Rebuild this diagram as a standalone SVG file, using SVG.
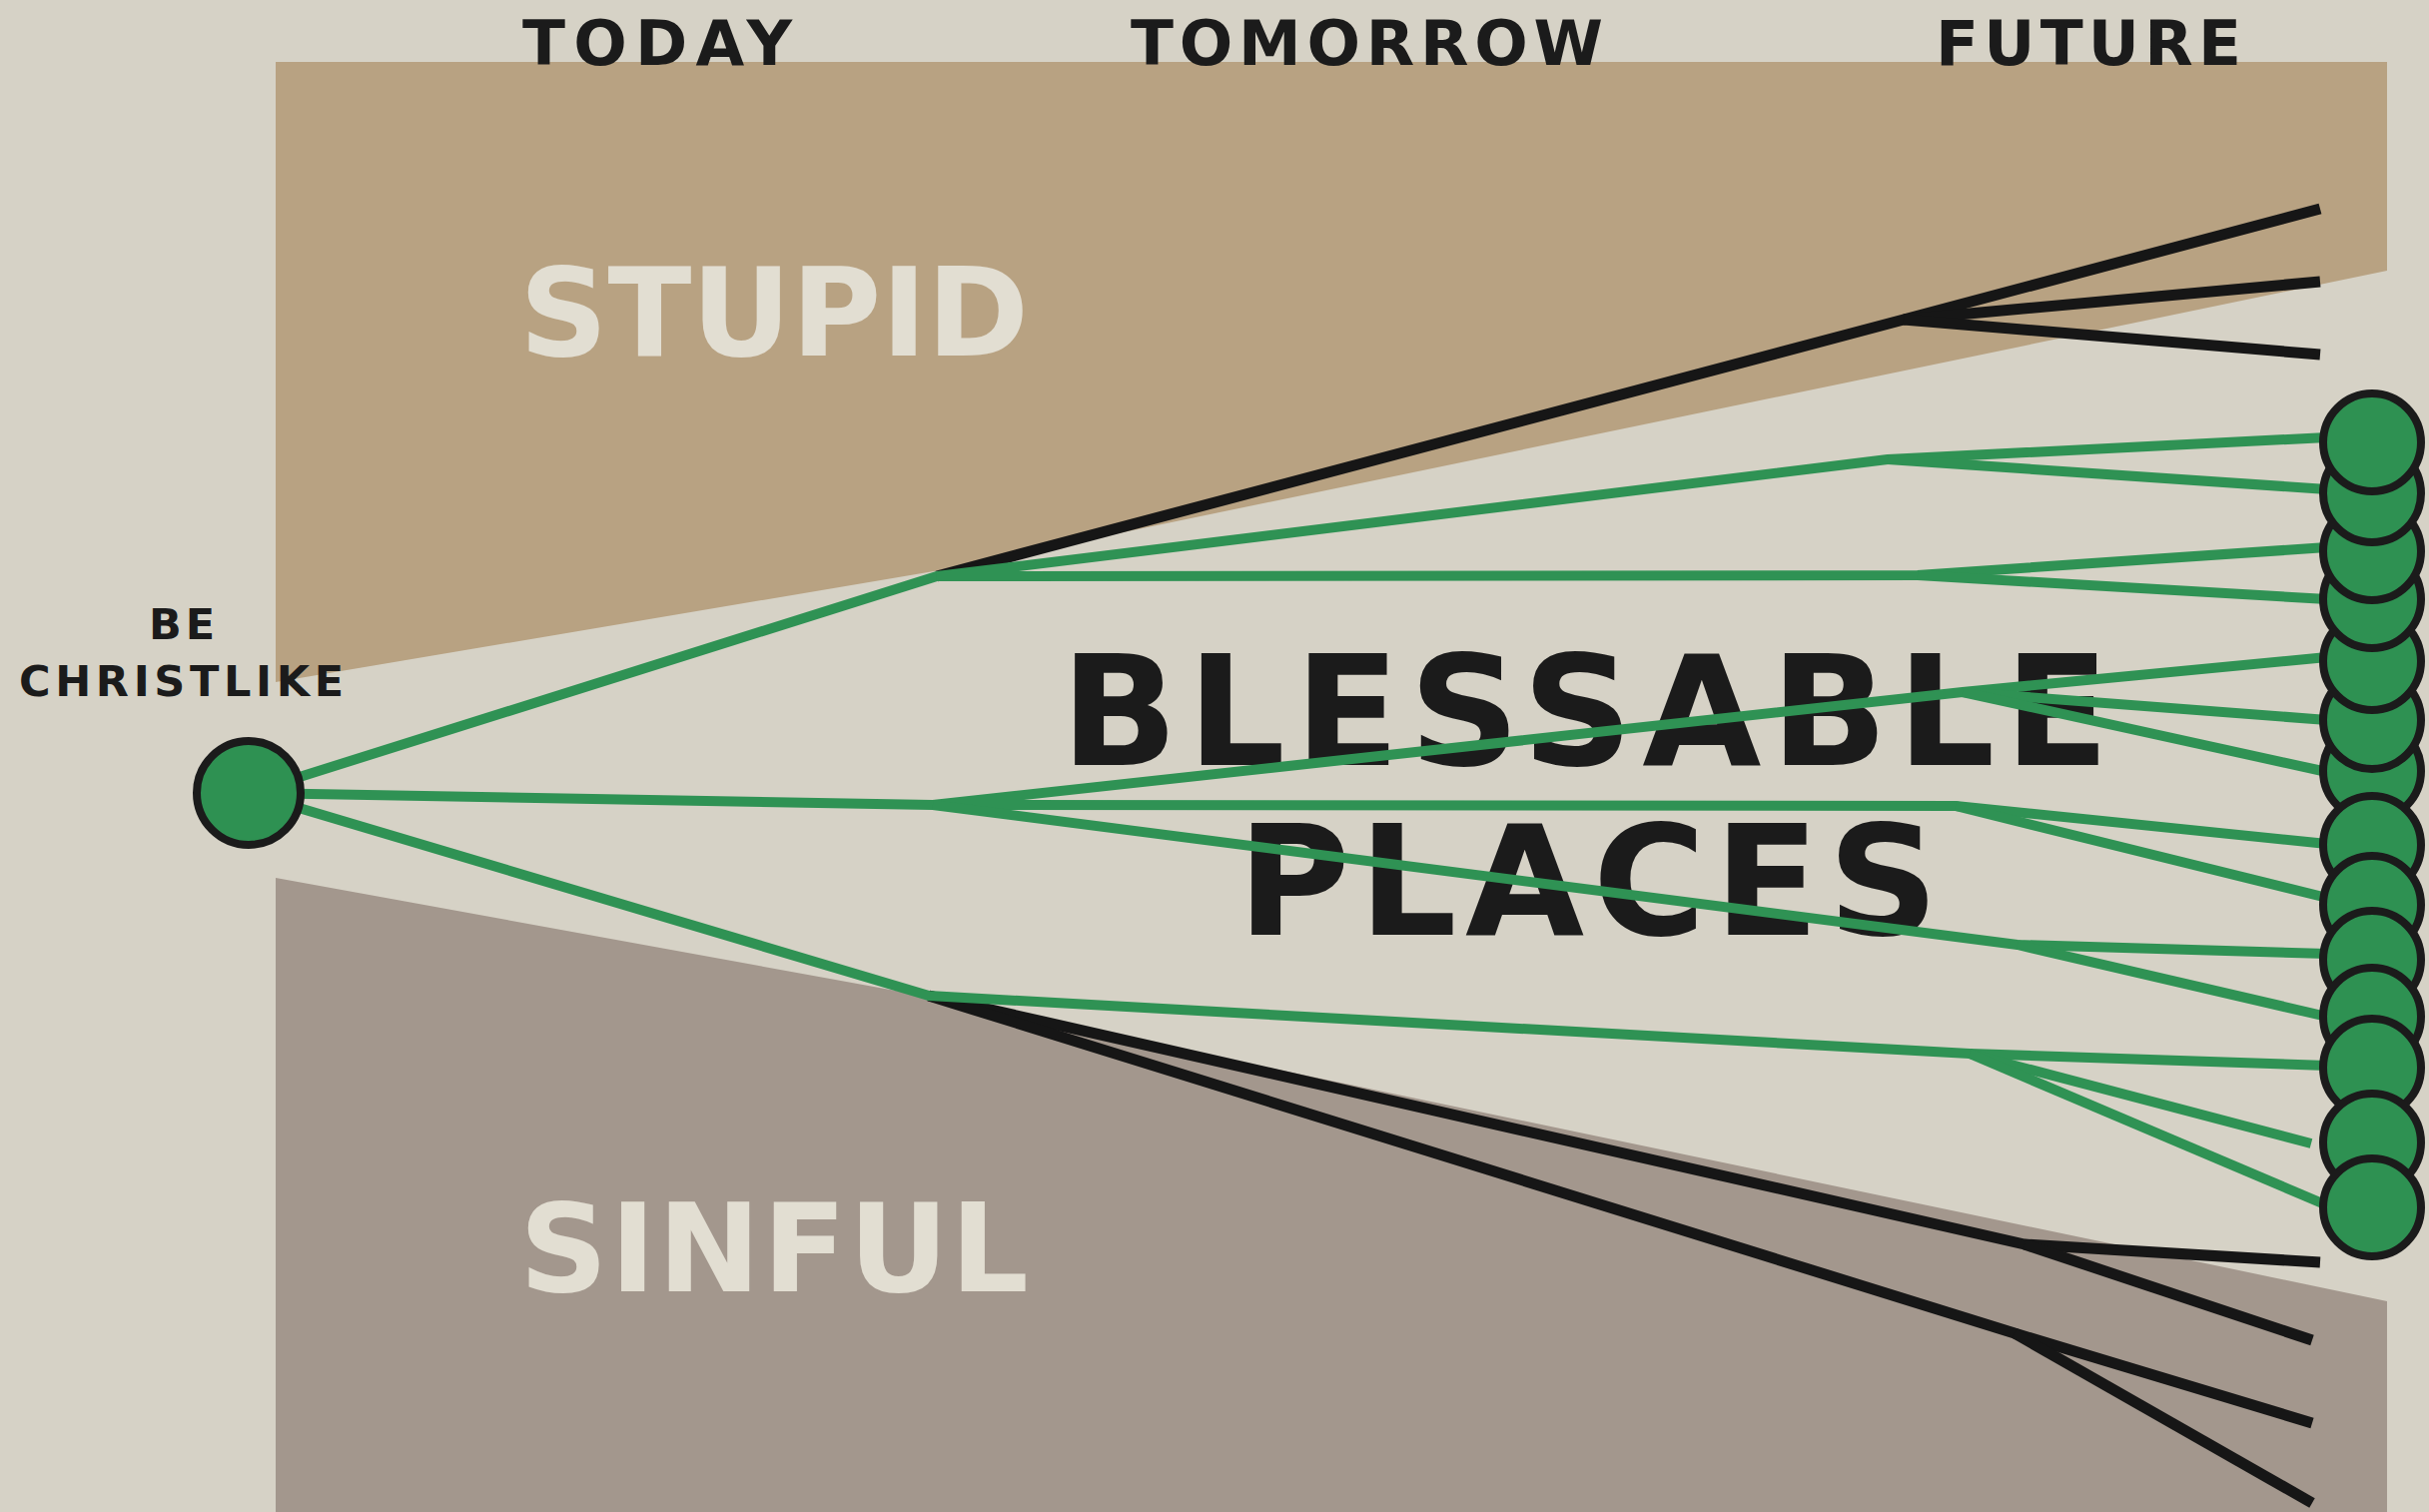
<svg xmlns="http://www.w3.org/2000/svg" width="2432" height="1514" viewBox="0 0 2432 1514">
<style>
.hdr{font-family:"DejaVu Sans","Liberation Sans",sans-serif;font-weight:bold;font-size:63px;fill:#1b1b1b}
.zone{font-family:"DejaVu Sans","Liberation Sans",sans-serif;font-weight:bold;font-size:123px;fill:#e2ded2}
.small{font-family:"DejaVu Sans","Liberation Sans",sans-serif;font-weight:bold;font-size:43px;fill:#1b1b1b}
.big{font-family:"DejaVu Sans","Liberation Sans",sans-serif;font-weight:bold;font-size:154px;fill:#1b1b1b}
.g{fill:none;stroke:#2f9254;stroke-width:10;stroke-linejoin:round;stroke-linecap:butt}
.k{fill:none;stroke:#161616;stroke-width:11;stroke-linejoin:round;stroke-linecap:butt}
.dot{fill:#2e9152;stroke:#1b1b1b;stroke-width:8}
</style>
<rect width="2432" height="1514" fill="#d6d2c6"/>
<g id="regions">
<path id="stupid-region" d="M276,62 H2390 V271 L941,571 L276,683 Z" fill="#b8a282"/>
<path id="sinful-region" d="M276,879 L930,998 L2390,1303 V1514 H276 Z" fill="#a3978d"/>
</g>
<g id="labels">
<text class="hdr" x="523" y="65" textLength="270" lengthAdjust="spacing">TODAY</text>
<text class="hdr" x="1132" y="65" textLength="473" lengthAdjust="spacing">TOMORROW</text>
<text class="hdr" x="1938" y="65" textLength="306" lengthAdjust="spacing">FUTURE</text>
<text class="zone" x="520" y="356" textLength="510" lengthAdjust="spacing">STUPID</text>
<text class="zone" x="520" y="1293" textLength="510" lengthAdjust="spacing">SINFUL</text>
<text class="big" x="1062" y="766" textLength="1050" lengthAdjust="spacing">BLESSABLE</text>
<text class="big" x="1239" y="936" textLength="702" lengthAdjust="spacing">PLACES</text>
</g>
<g id="connectors">
<path class="k" d="M938,577 L1906,320 L2323,209"/>
<path class="k" d="M1906,320 L2323,282"/>
<path class="k" d="M1906,320 L2323,355"/>
<path class="k" d="M930,997 L2027,1246 L2323,1264"/>
<path class="k" d="M2027,1246 L2315,1342"/>
<path class="k" d="M930,997 L2017,1335 L2315,1425"/>
<path class="k" d="M2017,1335 L2315,1505"/>
<path class="g" d="M249,794 L938,577 L1890,460 L2330,438"/>
<path class="g" d="M1890,460 L2330,490"/>
<path class="g" d="M938,577 L1920,576 L2330,548"/>
<path class="g" d="M1920,576 L2330,600"/>
<path class="g" d="M249,794 L934,806 L1965,693 L2330,658"/>
<path class="g" d="M1965,693 L2330,721"/>
<path class="g" d="M1965,693 L2330,773"/>
<path class="g" d="M934,806 L1958,807 L2330,845"/>
<path class="g" d="M1958,807 L2330,899"/>
<path class="g" d="M934,806 L2020,946 L2330,955"/>
<path class="g" d="M2020,946 L2330,1018"/>
<path class="g" d="M249,794 L930,997 L1972,1055 L2330,1067"/>
<path class="g" d="M1972,1055 L2314,1145"/>
<path class="g" d="M1972,1055 L2330,1207"/>
</g>
<g id="be-christlike">
<circle class="dot" cx="249" cy="794" r="52"/>
<text class="small" x="149" y="640" textLength="66" lengthAdjust="spacing">BE</text>
<text class="small" x="19" y="697" textLength="325" lengthAdjust="spacing">CHRISTLIKE</text>
</g>
<g id="outcomes">
<circle id="o7" class="dot" cx="2375" cy="772" r="49"/>
<circle id="o6" class="dot" cx="2375" cy="721" r="49"/>
<circle id="o5" class="dot" cx="2375" cy="662" r="49"/>
<circle id="o4" class="dot" cx="2375" cy="600" r="49"/>
<circle id="o3" class="dot" cx="2375" cy="552" r="49"/>
<circle id="o2" class="dot" cx="2375" cy="494" r="49"/>
<circle id="o1" class="dot" cx="2375" cy="443" r="49"/>
<circle id="o8" class="dot" cx="2375" cy="846" r="49"/>
<circle id="o9" class="dot" cx="2375" cy="906" r="49"/>
<circle id="o10" class="dot" cx="2375" cy="961" r="49"/>
<circle id="o11" class="dot" cx="2375" cy="1018" r="49"/>
<circle id="o12" class="dot" cx="2375" cy="1069" r="49"/>
<circle id="o13" class="dot" cx="2375" cy="1144" r="49"/>
<circle id="o14" class="dot" cx="2375" cy="1209" r="49"/>
</g>
</svg>
